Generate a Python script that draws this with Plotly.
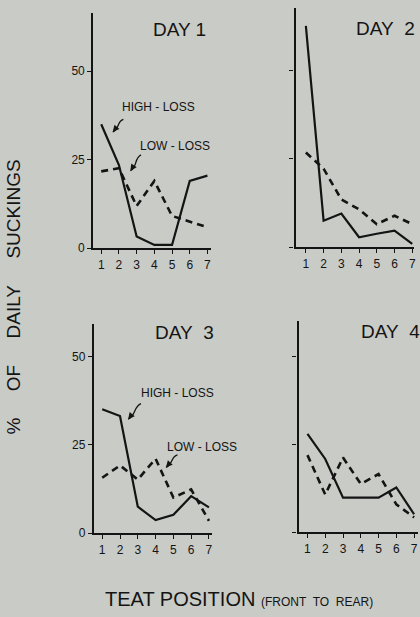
import math
import plotly.graph_objects as go

W, H = 420, 617
BG = "#c9cbc6"
INK = "#141414"
FONT = "Liberation Sans"

teats = [1, 2, 3, 4, 5, 6, 7]
days = ["DAY 1", "DAY\u00a0 2", "DAY\u00a0 3", "DAY\u00a0 4"]
high_loss = [
    [35, 23.5, 3.3, 0.9, 0.9, 19, 20.5],
    [62.6, 7.5, 9.5, 2.8, 3.8, 4.7, 0.9],
    [35.1, 33.2, 7.5, 3.7, 5.2, 10.5, 7.3],
    [27.9, 20.8, 9.8, 9.8, 9.8, 12.7, 5.1],
]
low_loss = [
    [21.7, 22.6, 11.9, 19, 9.1, 7.5, 5.9],
    [26.8, 22.2, 13.5, 10.7, 6.5, 8.9, 6.5],
    [15.7, 19.2, 15.2, 21.1, 10.1, 12.4, 3.5],
    [21.9, 10.7, 21.2, 13.7, 16.5, 7.9, 4.2],
]
y_ticks = [0, 25, 50]

# panel geometry in pixels: (left, right, top, bottom, xrange, ymax)
panels = [
    (93.7, 212.0, 13.0, 251.0, [0.55, 7.2], 66.5),
    (297.0, 416.0, 8.0, 250.0, [0.42, 7.1], 67.7),
    (94.3, 213.0, 328.0, 539.3, [0.53, 7.17], 59.2),
    (300.0, 420.0, 324.3, 538.3, [0.5, 7.22], 60.1),
]
title_pos = [(180, 30), (387, 29), (185, 336), (392, 335)]

fig = go.Figure()
layout = {}
annotations = []
shapes = []
for i, (l, r, t, b, xr, ymax) in enumerate(panels):
    n = "" if i == 0 else str(i + 1)
    xa, ya = "x" + n, "y" + n
    fig.add_trace(go.Scatter(x=teats, y=low_loss[i], mode="lines", xaxis=xa, yaxis=ya,
                             line=dict(color=INK, width=2.6, dash="7px,5px"),
                             showlegend=False, cliponaxis=False))
    fig.add_trace(go.Scatter(x=teats, y=high_loss[i], mode="lines", xaxis=xa, yaxis=ya,
                             line=dict(color=INK, width=2.2),
                             showlegend=False, cliponaxis=False))
    show_labels = i in (0, 2)
    layout["xaxis" + n] = dict(
        domain=[l / W, r / W], range=xr, anchor=ya, showgrid=False, zeroline=False,
        showline=True, linecolor=INK, linewidth=2.2, ticks="outside", ticklen=4,
        tickwidth=1.3, tickcolor=INK, tickvals=teats,
        tickfont=dict(family=FONT, size=12, color=INK), fixedrange=True)
    layout["yaxis" + n] = dict(
        domain=[1 - b / H, 1 - t / H], range=[0, ymax], anchor=xa, showgrid=False,
        zeroline=False, showline=True, linecolor=INK, linewidth=2.2, ticks="outside",
        ticklen=4, tickwidth=1.3, tickcolor=INK, tickvals=y_ticks,
        showticklabels=show_labels,
        tickfont=dict(family=FONT, size=12, color=INK), fixedrange=True)
    tx, ty = title_pos[i]
    annotations.append(dict(text=days[i], x=tx / W, y=1 - ty / H, xref="paper", yref="paper",
                            showarrow=False, xanchor="center", yanchor="middle",
                            font=dict(family=FONT, size=19, color=INK)))

# series labels (data coords) and wavy pointer arrows (pixel tail -> pixel head)
labels = [
    ("x", "y", "HIGH - LOSS", 4.22, 39.9, (124.0, 120.7), (113.3, 133.3)),
    ("x", "y", "LOW - LOSS", 5.17, 28.9, (141.7, 156.7), (131.0, 172.7)),
    ("x3", "y3", "HIGH - LOSS", 5.21, 39.7, (141.7, 408.3), (128.7, 424.0)),
    ("x3", "y3", "LOW - LOSS", 6.59, 24.4, (178.3, 460.0), (166.7, 472.7)),
]


def px(x, y):
    return "%.5f,%.5f" % (x / W, 1 - y / H)


for xr_, yr_, txt, lx, ly, tail, head in labels:
    annotations.append(dict(text=txt, x=lx, y=ly, xref=xr_, yref=yr_, showarrow=False,
                            font=dict(family=FONT, size=12, color=INK)))
    dx, dy = head[0] - tail[0], head[1] - tail[1]
    L = math.hypot(dx, dy)
    ux, uy = dx / L, dy / L
    pxn, pyn = -uy, ux
    w = 4.0
    c1 = (tail[0] + dx / 3 + pxn * w, tail[1] + dy / 3 + pyn * w)
    c2 = (tail[0] + 2 * dx / 3 - pxn * w, tail[1] + 2 * dy / 3 - pyn * w)
    path = "M %s C %s %s %s" % (px(*tail), px(*c1), px(*c2), px(*head))
    shapes.append(dict(type="path", path=path, xref="paper", yref="paper",
                       line=dict(color=INK, width=1.3)))
    annotations.append(dict(text="", x=head[0] / W, y=1 - head[1] / H, xref="paper",
                            yref="paper", showarrow=True, ax=-ux * 6, ay=-uy * 6,
                            arrowhead=2, arrowsize=1, arrowwidth=1.3, arrowcolor=INK))

annotations.append(dict(
    text="%\u00a0\u00a0\u00a0\u00a0 OF\u00a0\u00a0\u00a0\u00a0 DAILY\u00a0\u00a0\u00a0\u00a0 SUCKINGS",
    x=14 / W, y=1 - 300 / H, xref="paper", yref="paper", textangle=-90, showarrow=False,
    xanchor="center", yanchor="middle", font=dict(family=FONT, size=19, color=INK)))
annotations.append(dict(
    text="TEAT POSITION <span style='font-size:12px'>(FRONT\u00a0 TO\u00a0 REAR)</span>",
    x=240 / W, y=1 - 606 / H, xref="paper", yref="paper", showarrow=False,
    xanchor="center", yanchor="middle", font=dict(family=FONT, size=20, color=INK)))

fig.update_layout(width=W, height=H, margin=dict(l=0, r=0, t=0, b=0),
                  paper_bgcolor=BG, plot_bgcolor=BG, annotations=annotations,
                  shapes=shapes, **layout)
fig.write_html(
    "out.html",
    config={"displayModeBar": False},
    post_script="document.body.style.margin='0';document.body.style.background='%s';"
                "document.body.style.overflow='hidden';" % BG,
)
